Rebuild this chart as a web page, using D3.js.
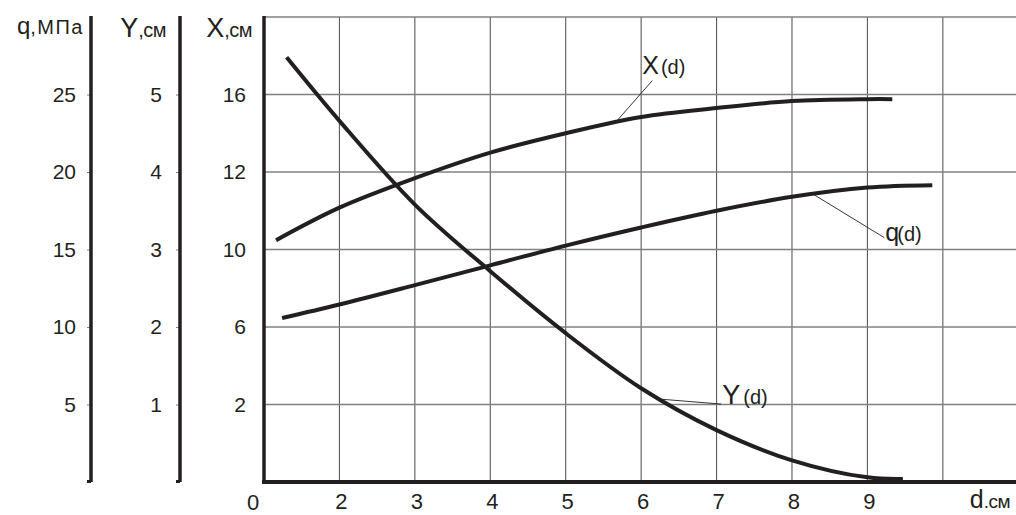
<!DOCTYPE html>
<html>
<head>
<meta charset="utf-8">
<script src="https://cdn.jsdelivr.net/npm/d3@7"></script>
<style>
  html, body { margin: 0; padding: 0; background: #fff; }
  svg { display: block; font-family: "Liberation Sans", Arial, sans-serif; }
  text { fill: #231f20; }
</style>
</head>
<body>
<svg id="chart" width="1016" height="515"></svg>
<script>
// d, cm (horizontal axis)
const dGrid = [2, 3, 4, 5, 6, 7, 8, 9, 10];
const dTicks = [2, 3, 4, 5, 6, 7, 8, 9];
const dTickLabels = ["2", "3", "4", "5", "6", "7", "8", "9"];

// left axes tick values
const qTicks = [5, 10, 15, 20, 25];
const yTicks = [1, 2, 3, 4, 5];
const xTicks = [2, 6, 10, 12, 16];

// curves: X(d) in cm, q(d) in MPa, Y(d) in cm
const dX = [1.16, 2, 3, 4, 5, 6, 7, 8, 9, 9.33];
const valX = [10.24, 11.08, 11.84, 13.0, 14.0, 14.84, 15.3, 15.66, 15.76, 15.76];

const dQ = [1.24, 2, 3, 4, 5, 6, 7, 8, 9, 9.86];
const valQ = [10.58, 11.45, 12.7, 13.98, 15.25, 16.42, 17.5, 18.4, 19.0, 19.15];

const dY = [1.3, 2, 3, 4, 5, 6, 7, 8, 9, 9.47];
const valY = [5.48, 4.66, 3.58, 2.72, 1.92, 1.21, 0.67, 0.28, 0.06, 0.04];

// where each curve label's leader touches the curve
const leaderD = [5.67, 8.27, 6.24];
const leaderV = [14.6, 18.6, 1.07];

const svg = d3.select("#chart");
const ink = "#231f20";

const xD = d3.scaleLinear().domain([1, 10.97]).range([264, 1016]);
const yY = d3.scaleLinear().domain([0, 6]).range([482, 17]);
const yQ = d3.scaleLinear().domain([0, 30]).range([482, 17]);
// the X axis labels are not evenly spaced, so a piecewise scale
const yX = d3.scaleLinear()
  .domain([0, 2, 6, 10, 12, 16, 20])
  .range([0, 1, 2, 3, 4, 5, 6].map(yY));

// grid
const grid = svg.append("g");
grid.selectAll("line.v").data(dGrid).join("line")
  .attr("class", "v")
  .attr("x1", d => xD(d)).attr("x2", d => xD(d))
  .attr("y1", yY(6)).attr("y2", yY(0))
  .attr("stroke", "#5a5a5a").attr("stroke-width", 1.1);
grid.selectAll("line.h").data([1, 2, 3, 4, 5, 6]).join("line")
  .attr("class", "h")
  .attr("x1", xD(1)).attr("x2", 1016)
  .attr("y1", d => yY(d)).attr("y2", d => yY(d))
  .attr("stroke", "#808080").attr("stroke-width", 1.3);

// left axes
function leftAxis(x, scale, ticks, pad) {
  const g = svg.append("g").attr("transform", "translate(" + x + ",0)");
  g.call(d3.axisLeft(scale).tickValues(ticks).tickSize(4).tickPadding(pad)
    .tickFormat(d3.format("d")));
  g.select(".domain").remove();
  g.selectAll(".tick line").attr("stroke", "#808080");
  g.selectAll(".tick text")
    .attr("font-size", 21).attr("font-family", "Liberation Sans, Arial, sans-serif")
    .attr("fill", ink);
  g.append("line")
    .attr("x1", 0).attr("x2", 0)
    .attr("y1", yY(6) - 1).attr("y2", yY(0))
    .attr("stroke", ink).attr("stroke-width", 3.5);
  g.append("rect")
    .attr("x", -4).attr("y", yY(0) - 2)
    .attr("width", 4).attr("height", 3).attr("fill", ink);
  return g;
}
leftAxis(91, yQ, qTicks, 11);
leftAxis(180, yY, yTicks, 14);
const gX = leftAxis(264, yX, xTicks, 14);
gX.selectAll(".tick line").remove();
gX.select("rect").remove();

// bottom axis line
svg.append("line")
  .attr("x1", xD(1) - 2).attr("x2", 1016)
  .attr("y1", yY(0)).attr("y2", yY(0))
  .attr("stroke", ink).attr("stroke-width", 4);

// bottom tick labels
svg.append("g").selectAll("text").data(dTicks).join("text")
  .attr("x", d => xD(d) + 2).attr("y", 509)
  .attr("text-anchor", "middle").attr("font-size", 22)
  .text((d, i) => dTickLabels[i]);
svg.append("text")
  .attr("x", xD(1) - 11).attr("y", 510)
  .attr("text-anchor", "middle").attr("font-size", 22)
  .text("0");

// axis titles
function bigSmallTitle(xEnd, y, big, small, bigSize, smallSize, sp) {
  const t = svg.append("text").attr("x", xEnd).attr("y", y).attr("text-anchor", "end");
  t.append("tspan").attr("font-size", bigSize).text(big);
  t.append("tspan").attr("font-size", smallSize).attr("letter-spacing", sp).text(small);
}
bigSmallTitle(84, 34, "q", ",МПа", 24, 20, 1.5);
bigSmallTitle(166, 37, "Y", ",см", 27, 20, -0.5);
bigSmallTitle(252, 37, "X", ",см", 27, 20, -0.5);
bigSmallTitle(1010, 508, "d", ".см", 25, 19, -0.5);

// curves
const curves = [
  {d: dX, v: valX, y: yX},
  {d: dQ, v: valQ, y: yQ},
  {d: dY, v: valY, y: yY}
];
const line = d3.line().curve(d3.curveCatmullRom.alpha(0.5));
svg.append("g").selectAll("path").data(curves).join("path")
  .attr("d", c => line(c.d.map((d, i) => [xD(d), c.y(c.v[i])])))
  .attr("fill", "none")
  .attr("stroke", ink)
  .attr("stroke-width", 4)
  .attr("stroke-linecap", "butt");

// curve labels with leader lines
const labels = [
  {big: "X", small: "(d)", dx: 36, dy: -41, tx: -10, ty: -7, bigSize: 25, smallSize: 20, sp: 2},
  {big: "q", small: "(d)", dx: 72, dy: 44, tx: 1, ty: 3, bigSize: 25, smallSize: 20, sp: -2},
  {big: "Y", small: "(d)", dx: 62, dy: 5, tx: 1, ty: 0, bigSize: 27, smallSize: 20, sp: 3}
];
labels.forEach((l, i) => {
  const sx = xD(leaderD[i]);
  const sy = curves[i].y(leaderV[i]);
  const ex = sx + l.dx, ey = sy + l.dy;
  svg.append("line")
    .attr("x1", sx).attr("y1", sy).attr("x2", ex).attr("y2", ey)
    .attr("stroke", ink).attr("stroke-width", 0.9);
  const t = svg.append("text").attr("x", ex + l.tx).attr("y", ey + l.ty);
  t.append("tspan").attr("font-size", l.bigSize).text(l.big);
  t.append("tspan").attr("dx", l.sp).attr("font-size", l.smallSize).text(l.small);
});
</script>
</body>
</html>
